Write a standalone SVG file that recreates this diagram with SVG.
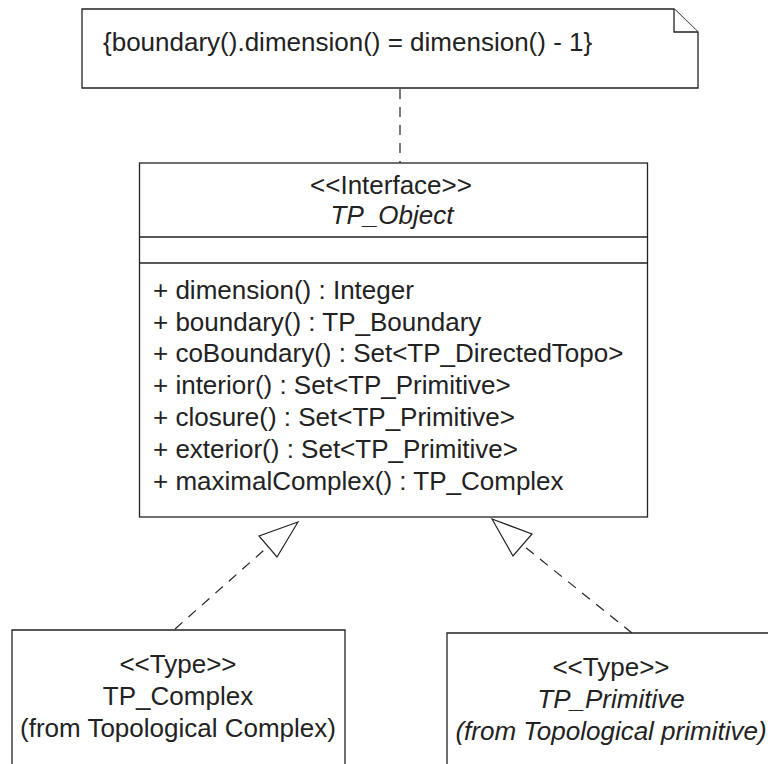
<svg xmlns="http://www.w3.org/2000/svg" width="768" height="764" viewBox="0 0 768 764">
<style>
.ln{fill:#fff;stroke:#222;stroke-width:1.3}
.dash{fill:none;stroke:#222;stroke-width:1.2;stroke-dasharray:10 8}
.head{fill:#fff;stroke:#222;stroke-width:1.2;stroke-linejoin:miter}
text{font-family:"Liberation Sans",Arial,sans-serif;font-size:26px;fill:#222}
.c{text-anchor:middle}
.i{font-style:italic}
</style>
<rect width="768" height="764" fill="#fff"/>
<g id="connectors">
<line class="dash" x1="400" y1="89" x2="400" y2="163"/>
<line class="dash" x1="175" y1="629" x2="268" y2="546.5"/>
<line class="dash" x1="632" y1="633" x2="522.5" y2="545"/>
<polygon class="head" points="298,522 259,536 277,557"/>
<polygon class="head" points="492,519 532,534 513,556"/>
</g>
<g id="note">
<path class="ln" d="M82,9 H674 L698,32 V88 H82 Z"/>
<path class="ln" fill="none" d="M674,9 V32 H698"/>
<text x="103" y="51">{boundary().dimension() = dimension() - 1}</text>
</g>
<g id="tp_object">
<rect class="ln" x="139.5" y="163" width="508" height="354"/>
<line class="ln" x1="139.5" y1="237" x2="647.5" y2="237"/>
<line class="ln" x1="139.5" y1="263" x2="647.5" y2="263"/>
<text class="c" x="391" y="194">&lt;&lt;Interface&gt;&gt;</text>
<text class="c i" x="392" y="224">TP_Object</text>
<text x="153" y="299">+ dimension() : Integer</text>
<text x="153" y="331">+ boundary() : TP_Boundary</text>
<text x="153" y="362">+ coBoundary() : Set&lt;TP_DirectedTopo&gt;</text>
<text x="153" y="394">+ interior() : Set&lt;TP_Primitive&gt;</text>
<text x="153" y="426">+ closure() : Set&lt;TP_Primitive&gt;</text>
<text x="153" y="458">+ exterior() : Set&lt;TP_Primitive&gt;</text>
<text x="153" y="490">+ maximalComplex() : TP_Complex</text>
</g>
<g id="tp_complex">
<path class="ln" d="M12,764 V630 H345 V764"/>
<text class="c" x="178" y="673">&lt;&lt;Type&gt;&gt;</text>
<text class="c" x="178" y="705">TP_Complex</text>
<text class="c" x="178" y="737">(from Topological Complex)</text>
</g>
<g id="tp_primitive">
<path class="ln" d="M447,764 V633 H768"/>
<text class="c" x="611" y="676">&lt;&lt;Type&gt;&gt;</text>
<text class="c i" x="611" y="708">TP_Primitive</text>
<text class="c i" x="611" y="740">(from Topological primitive)</text>
</g>
</svg>
